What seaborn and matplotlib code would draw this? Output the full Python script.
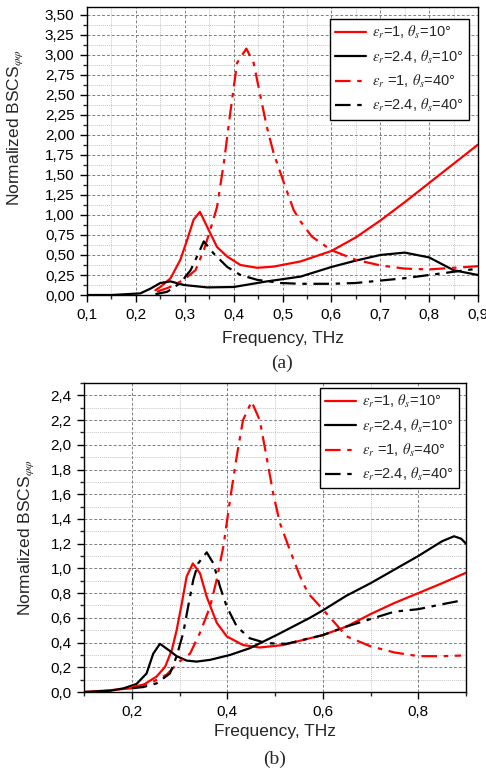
import matplotlib
matplotlib.use("Agg")
import matplotlib.pyplot as plt
import seaborn as sns
from matplotlib.ticker import MultipleLocator, FuncFormatter

# ---- panel (a) data ----
a_x_red_solid = [0.24, 0.25, 0.271, 0.291, 0.305, 0.318, 0.331, 0.346, 0.366, 0.387, 0.414, 0.448,
                 0.482, 0.537, 0.60, 0.65, 0.70, 0.75, 0.80, 0.85, 0.90]
a_y_red_solid = [0.06, 0.10, 0.21, 0.44, 0.69, 0.94, 1.04, 0.85, 0.60, 0.48, 0.375, 0.34,
                 0.355, 0.42, 0.55, 0.72, 0.93, 1.16, 1.40, 1.64, 1.88]

a_x_black_solid = [0.10, 0.15, 0.209, 0.23, 0.25, 0.271, 0.298, 0.346, 0.40, 0.468, 0.537,
                   0.60, 0.65, 0.70, 0.75, 0.80, 0.85, 0.90]
a_y_black_solid = [0.00, 0.00, 0.02, 0.08, 0.15, 0.17, 0.125, 0.095, 0.10, 0.17, 0.23,
                   0.35, 0.43, 0.50, 0.53, 0.47, 0.31, 0.25]

a_x_red_dd = [0.243, 0.27, 0.298, 0.322, 0.339, 0.352, 0.366, 0.38, 0.393, 0.407, 0.426, 0.441,
              0.455, 0.468, 0.482, 0.503, 0.523, 0.537, 0.56, 0.60, 0.65, 0.70, 0.75, 0.80,
              0.85, 0.90]
a_y_red_dd = [0.04, 0.10, 0.19, 0.31, 0.56, 0.81, 1.10, 1.65, 2.27, 2.90, 3.08, 2.90,
              2.48, 2.10, 1.77, 1.40, 1.06, 0.92, 0.73, 0.56, 0.44, 0.37, 0.33, 0.32,
              0.34, 0.36]

a_x_black_dd = [0.24, 0.264, 0.291, 0.312, 0.325, 0.339, 0.359, 0.387, 0.414, 0.448, 0.496,
                0.537, 0.60, 0.65, 0.70, 0.75, 0.80, 0.85, 0.90]
a_y_black_dd = [0.01, 0.04, 0.15, 0.31, 0.48, 0.67, 0.52, 0.35, 0.25, 0.19, 0.15,
                0.14, 0.14, 0.15, 0.18, 0.21, 0.25, 0.29, 0.33]

# ---- panel (b) data ----
b_x_red_solid = [0.10, 0.15, 0.20, 0.224, 0.252, 0.27, 0.284, 0.294, 0.305, 0.315, 0.328, 0.343,
                 0.357, 0.378, 0.399, 0.433, 0.468, 0.517, 0.573, 0.60, 0.65, 0.70, 0.75,
                 0.80, 0.85, 0.90]
b_y_red_solid = [0.00, 0.013, 0.03, 0.057, 0.125, 0.205, 0.34, 0.50, 0.72, 0.935, 1.04, 0.96,
                 0.77, 0.56, 0.45, 0.38, 0.36, 0.38, 0.435, 0.46, 0.53, 0.63, 0.72,
                 0.80, 0.88, 0.965]

b_x_black_solid = [0.10, 0.155, 0.183, 0.21, 0.231, 0.245, 0.259, 0.277, 0.294, 0.315, 0.336,
                   0.364, 0.406, 0.447, 0.503, 0.573, 0.60, 0.65, 0.70, 0.75, 0.80, 0.85,
                   0.875, 0.89, 0.90]
b_y_black_solid = [0.00, 0.01, 0.03, 0.065, 0.15, 0.31, 0.39, 0.34, 0.29, 0.254, 0.246,
                   0.26, 0.30, 0.354, 0.46, 0.60, 0.66, 0.78, 0.88, 0.99, 1.10, 1.22,
                   1.26, 1.24, 1.20]

b_x_red_dd = [0.20, 0.238, 0.273, 0.301, 0.322, 0.343, 0.364, 0.378, 0.392, 0.406, 0.42, 0.433,
              0.451, 0.468, 0.482, 0.496, 0.51, 0.531, 0.552, 0.569, 0.60, 0.65, 0.70, 0.75,
              0.80, 0.85, 0.89]
b_y_red_dd = [0.04, 0.07, 0.14, 0.25, 0.31, 0.48, 0.69, 0.91, 1.18, 1.56, 1.91, 2.20,
              2.35, 2.20, 1.91, 1.61, 1.37, 1.15, 0.94, 0.80, 0.67, 0.45, 0.37, 0.32,
              0.29, 0.29, 0.295]

b_x_black_dd = [0.20, 0.224, 0.252, 0.28, 0.294, 0.308, 0.318, 0.329, 0.339, 0.357, 0.371,
                0.385, 0.399, 0.42, 0.447, 0.482, 0.524, 0.60, 0.65, 0.70, 0.75, 0.80,
                0.85, 0.89]
b_y_black_dd = [0.03, 0.04, 0.07, 0.15, 0.29, 0.48, 0.69, 0.91, 1.04, 1.13, 1.04,
                0.85, 0.69, 0.53, 0.435, 0.395, 0.39, 0.46, 0.53, 0.59, 0.65, 0.67,
                0.71, 0.74]

labels = [r'$\varepsilon_r$=1, $\theta_s$=10°',
          r'$\varepsilon_r$=2.4, $\theta_s$=10°',
          r'$\varepsilon_r$ =1, $\theta_s$=40°',
          r'$\varepsilon_r$=2.4, $\theta_s$=40°']

sns.set_style("ticks")
plt.rcParams['font.family'] = ['Liberation Sans', 'DejaVu Sans']
plt.rcParams['mathtext.fontset'] = 'stix'
plt.rcParams['font.size'] = 10

DASHDOT = (0, (7, 3, 2, 3))


def draw_panel(ax, series, xlim, ylim, xmaj, xmin, ymaj, ymin, xfmt, yfmt):
    for (x, y, color, ls), lab in zip(series, labels):
        sns.lineplot(x=x, y=y, ax=ax, color=color, linestyle=ls, linewidth=1.6, label=lab)
    ax.set_xlim(*xlim)
    ax.set_ylim(*ylim)
    ax.xaxis.set_major_locator(MultipleLocator(xmaj))
    ax.xaxis.set_minor_locator(MultipleLocator(xmin))
    ax.yaxis.set_major_locator(MultipleLocator(ymaj))
    ax.yaxis.set_minor_locator(MultipleLocator(ymin))
    ax.xaxis.set_major_formatter(FuncFormatter(lambda v, p: (xfmt % v).replace('.', ',')))
    ax.yaxis.set_major_formatter(FuncFormatter(lambda v, p: (yfmt % v).replace('.', ',')))
    ax.grid(which='major', linestyle=(0, (3, 2)), color='#808080', linewidth=0.7)
    ax.grid(which='minor', linestyle=(0, (1, 1)), color='#c8c8c8', linewidth=0.7)
    ax.set_axisbelow(True)
    for s in ax.spines.values():
        s.set_color('black')
        s.set_linewidth(1.0)
    ax.tick_params(which='major', direction='out', length=5, width=1, labelsize=11,
                   colors='black', pad=4)
    ax.tick_params(which='minor', direction='out', length=3, width=1)
    ax.set_xlabel('Frequency, THz', fontsize=12.5)
    ax.set_ylabel(r'Normalized BSCS$_{\varphi\varphi}$', fontsize=12.5)


def add_legend(ax, anchor):
    leg = ax.legend(loc='upper right', bbox_to_anchor=anchor, fontsize=10.5,
                    frameon=True, fancybox=False, edgecolor='black', framealpha=1,
                    handlelength=2.1, borderpad=0.35, labelspacing=0.5, handletextpad=0.45,
                    borderaxespad=0)
    leg.get_frame().set_linewidth(1.0)


fig = plt.figure(figsize=(4.86, 7.70), dpi=100)

ax1 = fig.add_axes([87 / 486, 1 - 295 / 770, 391 / 486, 288 / 770])
draw_panel(ax1,
           [(a_x_red_solid, a_y_red_solid, 'red', '-'),
            (a_x_black_solid, a_y_black_solid, 'black', '-'),
            (a_x_red_dd, a_y_red_dd, 'red', DASHDOT),
            (a_x_black_dd, a_y_black_dd, 'black', DASHDOT)],
           (0.1, 0.9), (0, 3.6), 0.1, 0.05, 0.25, 0.125, '%.1f', '%.2f')
ax1.yaxis.set_label_coords(-0.158, 0.58)
ax1.xaxis.set_label_coords(0.5, -0.125)
add_legend(ax1, (0.977, 0.958))
fig.text(282 / 486, 1 - 363 / 770, '(a)', ha='center', va='center', fontsize=14,
         family='Liberation Serif')

ax2 = fig.add_axes([84 / 486, 1 - 692 / 770, 382 / 486, 309 / 770])
draw_panel(ax2,
           [(b_x_red_solid, b_y_red_solid, 'red', '-'),
            (b_x_black_solid, b_y_black_solid, 'black', '-'),
            (b_x_red_dd, b_y_red_dd, 'red', DASHDOT),
            (b_x_black_dd, b_y_black_dd, 'black', DASHDOT)],
           (0.1, 0.9), (0, 2.5), 0.2, 0.1, 0.2, 0.1, '%.1f', '%.1f')
ax2.yaxis.set_label_coords(-0.125, 0.5)
ax2.xaxis.set_label_coords(0.5, -0.105)
add_legend(ax2, (0.982, 0.984))
fig.text(275 / 486, 1 - 759 / 770, '(b)', ha='center', va='center', fontsize=14,
         family='Liberation Serif')

fig.savefig('out.png', dpi=100)
